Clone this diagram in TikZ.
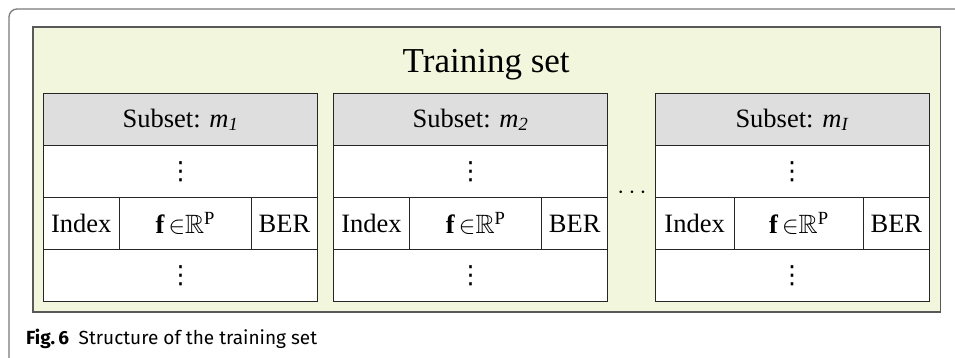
\documentclass[tikz,border=0pt]{standalone}
\usepackage{fontspec}
\usepackage{amssymb}
\setmainfont{Liberation Serif}
\setsansfont{Fira Sans}
\newfontfamily\symfont{DejaVu Sans}
\definecolor{setfill}{HTML}{F2F6DC}
\definecolor{headfill}{HTML}{DEDEDE}
\definecolor{framegray}{HTML}{7A7A7A}
\tikzset{
  cell/.style={draw=black!85, line width=0.9pt, inner sep=0pt, minimum height=52pt,
    font=\fontsize{26.5}{30}\selectfont},
  headcell/.style={cell, fill=headfill, minimum width=274.4pt},
  rowcell/.style={cell, fill=white, minimum width=274.4pt},
}
\newcommand{\featvec}{$\mathbf{f}\,{\in}\mathbb{R}^{\mathrm{P}}$}
\newcommand{\rowdots}{{\symfont\fontsize{25}{30}\selectfont ⋮}}
\begin{document}
\begin{tikzpicture}[x=1pt, y=-1pt]
\useasboundingbox (0,0) rectangle (955,358);
% figure frame and training set box
\draw[framegray, line width=1.3pt, rounded corners=8pt] (9,358) -- (9,9) -- (955,9);
\draw[fill=setfill, draw=black!65, line width=1.4pt] (33,27) rectangle (940.7,312);
\node[font=\fontsize{35}{40}\selectfont, anchor=base] (title) at (486.2,72.7) {Training set};
% Subset m_1
\begin{scope}[xshift=43.3pt, name prefix=sa-]
\node[headcell] (head) at (137.2,119.7) {Subset: \textit{m}\textsubscript{\textit{1}}};
\node[rowcell] (top) at (137.2,171.7) {\rowdots};
\node[cell, fill=white, minimum width=76pt] (idx) at (38,223.7) {Index};
\node[cell, fill=white, minimum width=132pt] (feat) at (142,223.7) {\featvec};
\node[cell, fill=white, minimum width=66.4pt] (ber) at (241.2,223.7) {BER};
\node[rowcell] (bot) at (137.2,275.7) {\rowdots};
\end{scope}
% Subset m_2
\begin{scope}[xshift=333.3pt, name prefix=sb-]
\node[headcell] (head) at (137.2,119.7) {Subset: \textit{m}\textsubscript{\textit{2}}};
\node[rowcell] (top) at (137.2,171.7) {\rowdots};
\node[cell, fill=white, minimum width=76.4pt] (idx) at (38.2,223.7) {Index};
\node[cell, fill=white, minimum width=132pt] (feat) at (142.4,223.7) {\featvec};
\node[cell, fill=white, minimum width=66pt] (ber) at (241.4,223.7) {BER};
\node[rowcell] (bot) at (137.2,275.7) {\rowdots};
\end{scope}
% Subset m_I
\begin{scope}[xshift=655pt, name prefix=sc-]
\node[headcell] (head) at (137.2,119.7) {Subset: \textit{m}\textsubscript{\textit{I}}};
\node[rowcell] (top) at (137.2,171.7) {\rowdots};
\node[cell, fill=white, minimum width=79.3pt] (idx) at (39.65,223.7) {Index};
\node[cell, fill=white, minimum width=129pt] (feat) at (143.8,223.7) {\featvec};
\node[cell, fill=white, minimum width=66.1pt] (ber) at (241.35,223.7) {BER};
\node[rowcell] (bot) at (137.2,275.7) {\rowdots};
\end{scope}
\node[font=\fontsize{24}{28}\selectfont] (more) at (632,193) {$\cdots$};
% caption
\node[anchor=base west, inner sep=0pt, font=\sffamily\fontsize{19}{23}\selectfont] (cap) at (26,344.3)
  {\textbf{Fig.\,6}\hspace{0.5em}Structure of the training set};
\end{tikzpicture}
\end{document}
